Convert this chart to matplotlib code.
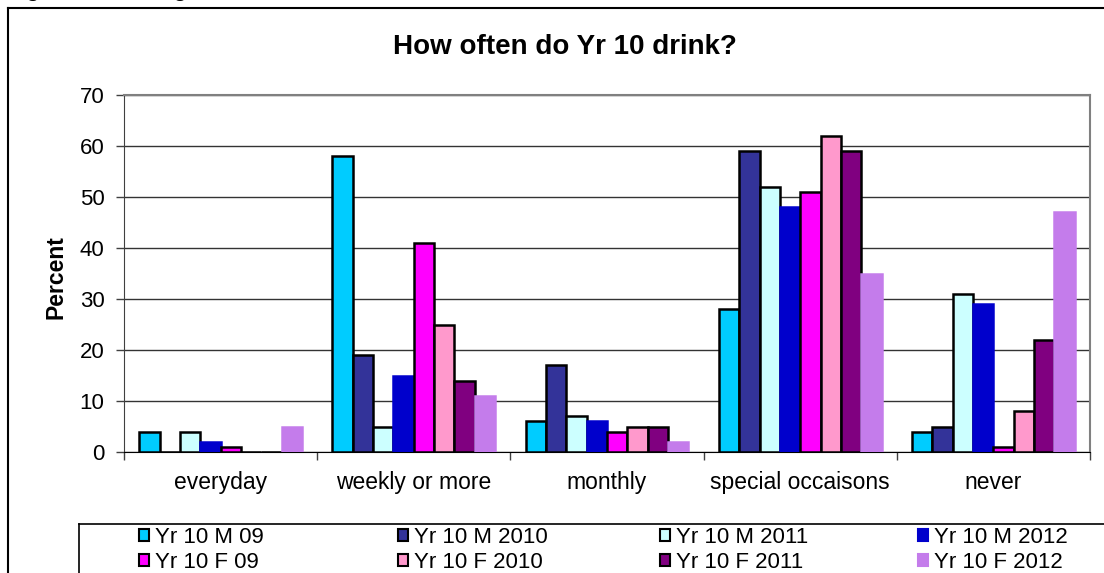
import matplotlib
matplotlib.use("Agg")
import matplotlib.pyplot as plt
from matplotlib.patches import Patch
from matplotlib.lines import Line2D
import numpy as np

plt.rcParams['font.family'] = ['Liberation Sans', 'DejaVu Sans']

categories = ["everyday", "weekly or more", "monthly", "special occaisons", "never"]

series_names = ["Yr 10 M 09", "Yr 10 M 2010", "Yr 10 M 2011", "Yr 10 M 2012",
                "Yr 10 F 09", "Yr 10 F 2010", "Yr 10 F 2011", "Yr 10 F 2012"]

m_09 = [4, 58, 6, 28, 4]
m_2010 = [0, 19, 17, 59, 5]
m_2011 = [4, 5, 7, 52, 31]
m_2012 = [2, 15, 6, 48, 29]
f_09 = [1, 41, 4, 51, 1]
f_2010 = [0, 25, 5, 62, 8]
f_2011 = [0, 14, 5, 59, 22]
f_2012 = [5, 11, 2, 35, 47]

y_ticks = [0, 10, 20, 30, 40, 50, 60, 70]

series_values = [m_09, m_2010, m_2011, m_2012, f_09, f_2010, f_2011, f_2012]
fill_colors = ["#00CCFF", "#333399", "#CCFFFF", "#0000CC",
               "#FF00FF", "#FF99CC", "#800080", "#C47CEB"]
edge_colors = ["black", "black", "black", "#0000CC",
               "black", "black", "black", "#C47CEB"]

W, H = 1104, 573
fig = plt.figure(figsize=(W / 100, H / 100), dpi=100)
fig.patch.set_facecolor("white")

ax = fig.add_axes([124 / W, 1 - 452 / H, (1090 - 124) / W, (452 - 95) / H])

x = np.arange(len(categories))
n = len(series_values)
bar_w = 1 / 9.5
for j, (vals, fc, ec) in enumerate(zip(series_values, fill_colors, edge_colors)):
    ax.bar(x + (j - (n - 1) / 2) * bar_w, vals, width=bar_w, color=fc,
           edgecolor=ec, linewidth=1.8, zorder=3)

ax.set_xlim(-0.5, len(categories) - 0.5)
ax.set_ylim(0, 70)
ax.set_yticks(y_ticks)
ax.set_yticklabels([str(t) for t in y_ticks])
ax.set_xticks(x)
ax.set_xticklabels(categories)
ax.set_xticks(np.arange(-0.5, len(categories), 1.0), minor=True)

ax.tick_params(axis="y", direction="out", length=6, width=1, color="#404040",
               labelsize=16, pad=8)
ax.tick_params(axis="x", which="major", length=0, labelsize=16.5, pad=14)
ax.tick_params(axis="x", which="minor", direction="out", length=6, width=1,
               color="#404040")

ax.yaxis.grid(True, color="#333333", linewidth=1)
ax.set_axisbelow(True)

ax.spines["top"].set_color("#808080")
ax.spines["right"].set_color("#808080")
ax.spines["top"].set_linewidth(1.5)
ax.spines["right"].set_linewidth(1.5)
ax.spines["left"].set_color("#404040")
ax.spines["bottom"].set_color("black")

ax.set_ylabel("Percent", fontsize=16.5, fontweight="bold")
ax.yaxis.set_label_coords(-0.059, 0.49)

fig.text(565 / W, 1 - 47 / H, "How often do Yr 10 drink?", ha="center",
         va="center", fontsize=20, fontweight="bold")

# Caption line sitting just above the visible area
fig.text(8 / W, 1 + 3 / H, "Figure 8: Drinking", ha="left", va="baseline",
         fontsize=15, fontweight="bold")

# Outer chart frame (continues past the right and bottom edges)
fig.add_artist(Line2D([8 / W, 8 / W], [0, 1 - 8 / H], transform=fig.transFigure,
                      color="black", linewidth=1.5))
fig.add_artist(Line2D([8 / W, 1], [1 - 8 / H, 1 - 8 / H], transform=fig.transFigure,
                      color="black", linewidth=1.5))

# Legend frame
fig.add_artist(Line2D([79 / W, 79 / W], [0, 1 - 524 / H], transform=fig.transFigure,
                      color="black", linewidth=1.2))
fig.add_artist(Line2D([79 / W, 1], [1 - 524 / H, 1 - 524 / H], transform=fig.transFigure,
                      color="black", linewidth=1.2))

# Legend: four columns, male row on top, female row below
col_x = [139, 398, 660, 918]
for c in range(4):
    idx = [c, c + 4]
    handles = [Patch(facecolor=fill_colors[i], edgecolor=edge_colors[i], linewidth=1.5)
               for i in idx]
    labels = [series_names[i] for i in idx]
    fig.legend(handles, labels, loc="center left",
               bbox_to_anchor=(col_x[c] / W, 1 - 550 / H),
               frameon=False, fontsize=16, borderpad=0, borderaxespad=0,
               handlelength=0.45, handleheight=0.45, handletextpad=0.25,
               labelspacing=0.2)

fig.savefig("out.png", dpi=100)
